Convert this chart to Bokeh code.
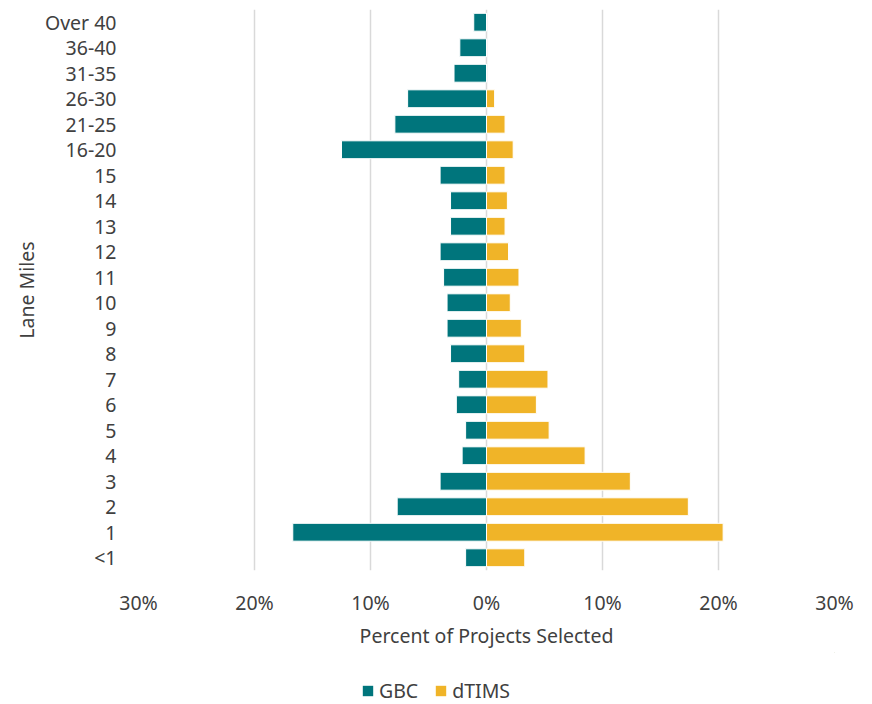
from bokeh.plotting import figure
from bokeh.layouts import column
from bokeh.models import (FactorRange, Range1d, CustomJSTickFormatter, FixedTicker, Legend,
                          LegendItem, ColumnDataSource)
from bokeh.embed import file_html
from bokeh.resources import INLINE

categories = ["<1", "1", "2", "3", "4", "5", "6", "7", "8", "9", "10", "11", "12",
              "13", "14", "15", "16-20", "21-25", "26-30", "31-35", "36-40", "Over 40"]
gbc = [1.8, 16.7, 7.7, 4.0, 2.1, 1.8, 2.6, 2.4, 3.1, 3.4, 3.4, 3.7, 4.0,
       3.1, 3.1, 4.0, 12.5, 7.9, 6.8, 2.8, 2.3, 1.1]
dtims = [3.3, 20.4, 17.4, 12.4, 8.5, 5.4, 4.3, 5.3, 3.3, 3.0, 2.05, 2.8, 1.9,
         1.6, 1.8, 1.6, 2.3, 1.6, 0.7, 0.0, 0.0, 0.0]
x_ticks = [-30, -20, -10, 0, 10, 20, 30]
series_names = ["GBC", "dTIMS"]

FONT = "Noto Sans"
FS = "19.5px"
TXT = "#404040"
GBC_COLOR = "#00757C"
DTIMS_COLOR = "#F0B428"

src = ColumnDataSource(dict(cat=categories, gbc_left=[-v for v in gbc], dtims=dtims))

p = figure(width=864, height=652, output_backend="svg", toolbar_location=None,
           y_range=FactorRange(*categories, range_padding=0), x_range=Range1d(-30, 30),
           min_border_left=138, min_border_right=30, min_border_top=9, min_border_bottom=82)

r1 = p.hbar(y="cat", left="gbc_left", right=0, height=0.7, source=src,
            fill_color=GBC_COLOR, line_color="white", line_width=1)
r2 = p.hbar(y="cat", left=0, right="dtims", height=0.7, source=src,
            fill_color=DTIMS_COLOR, line_color="white", line_width=1)

p.outline_line_color = None
p.ygrid.grid_line_color = None
p.xgrid.grid_line_color = "#D9D9D9"
p.xgrid.grid_line_width = 1.5
p.xaxis.ticker = FixedTicker(ticks=x_ticks)
p.xaxis.formatter = CustomJSTickFormatter(code="return Math.abs(tick) + '%';")

for ax in (p.xaxis[0], p.yaxis[0]):
    ax.axis_line_color = None
    ax.major_tick_line_color = None
    ax.minor_tick_line_color = None
    ax.major_tick_out = 0
    ax.major_tick_in = 0
    ax.minor_tick_out = 0
    ax.minor_tick_in = 0
    ax.major_label_text_font = FONT
    ax.major_label_text_font_size = FS
    ax.major_label_text_color = TXT
    ax.axis_label_text_font = FONT
    ax.axis_label_text_font_size = FS
    ax.axis_label_text_font_style = "normal"
    ax.axis_label_text_color = TXT

p.xaxis.axis_label = "Percent of Projects Selected"
p.yaxis.axis_label = "Lane Miles"
p.xaxis.major_label_standoff = 18
p.xaxis.axis_label_standoff = 3
p.yaxis.major_label_standoff = 22
p.yaxis.axis_label_standoff = 2

# legend strip below the chart (its proxy glyphs lie outside the visible range)
lg = figure(width=864, height=52, output_backend="svg", toolbar_location=None,
            x_range=Range1d(0, 1), y_range=Range1d(0, 1),
            min_border_left=0, min_border_right=0, min_border_top=0, min_border_bottom=0)
lg.axis.visible = False
lg.grid.grid_line_color = None
lg.outline_line_color = None
proxy = ColumnDataSource(dict(y=[10], l=[10], r=[11]))
g1 = lg.hbar(y="y", left="l", right="r", height=1, source=proxy,
             fill_color=GBC_COLOR, line_color=None)
g2 = lg.hbar(y="y", left="l", right="r", height=1, source=proxy,
             fill_color=DTIMS_COLOR, line_color=None)

legend = Legend(items=[LegendItem(label=series_names[0], renderers=[g1]),
                       LegendItem(label=series_names[1], renderers=[g2])],
                orientation="horizontal", location=(223, 0),
                label_text_font=FONT, label_text_font_size=FS, label_text_color=TXT,
                glyph_width=13, glyph_height=13, spacing=16, label_standoff=5,
                padding=0, margin=0,
                border_line_color=None, background_fill_alpha=0)
lg.add_layout(legend, "center")

layout = column(p, lg, spacing=0)
open("out.html", "w").write(file_html(layout, INLINE))
